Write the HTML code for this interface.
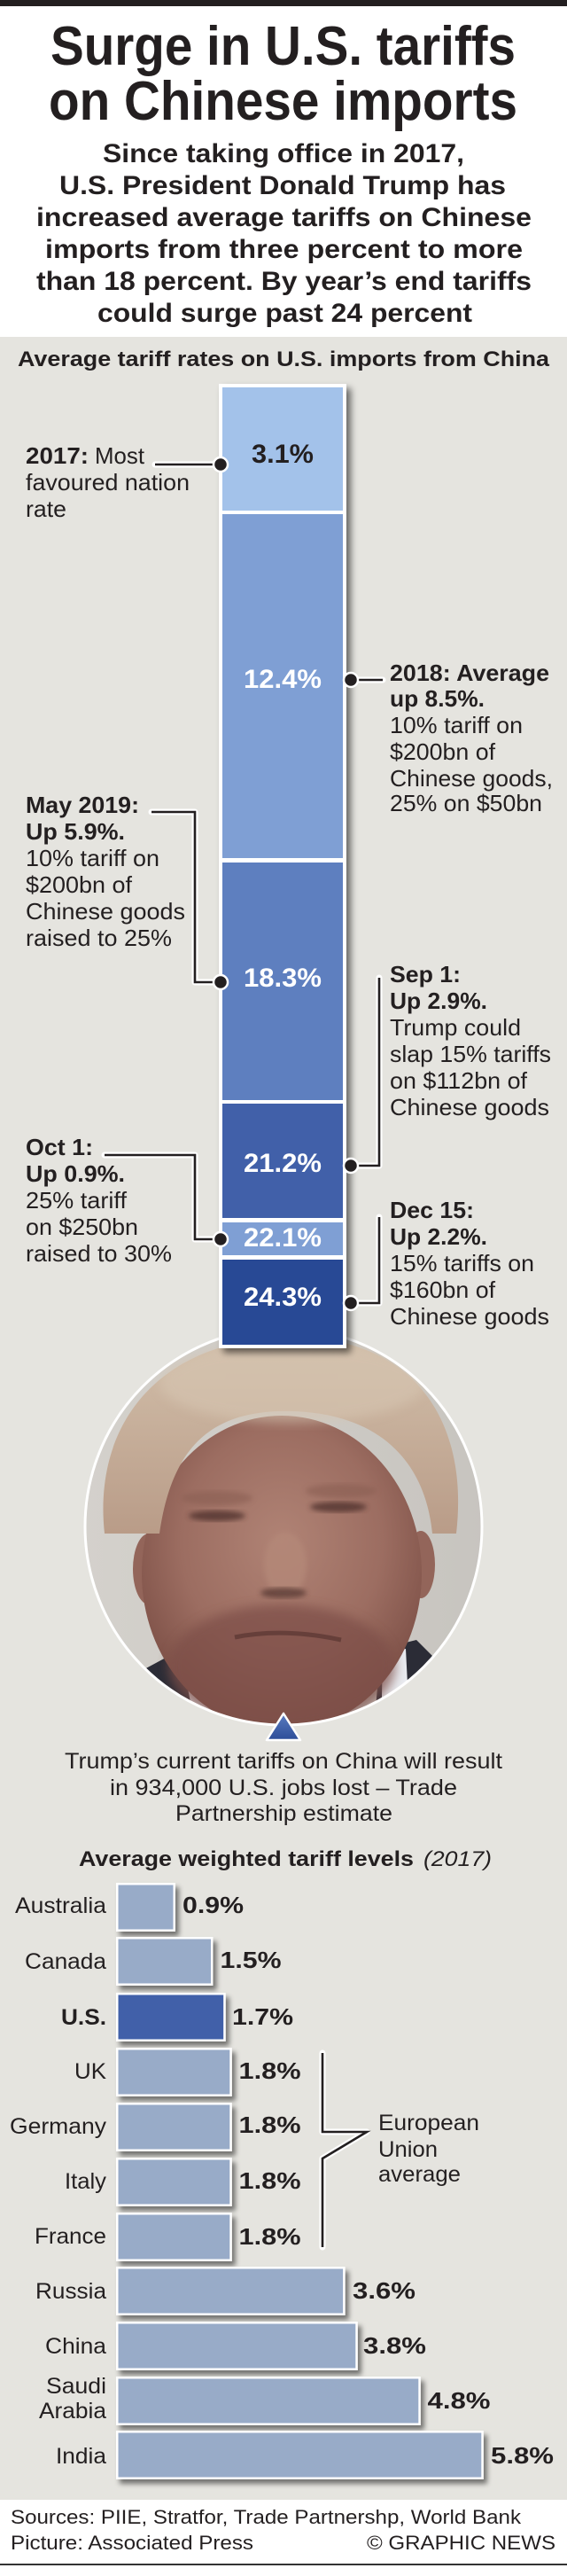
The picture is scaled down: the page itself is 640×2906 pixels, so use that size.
<!DOCTYPE html>
<html>
<head>
<meta charset="utf-8">
<style>
html,body{margin:0;padding:0;background:#fff;}
svg{display:block;}
text{font-family:"Liberation Sans",Arial,Helvetica,sans-serif;fill:#231f20;}
.b{font-weight:bold;}
.w{fill:#ffffff;}
</style>
</head>
<body>
<svg width="640" height="2906" viewBox="0 0 640 2906" xmlns="http://www.w3.org/2000/svg">
<defs>
  <filter id="sh" x="-20%" y="-20%" width="150%" height="150%">
    <feGaussianBlur in="SourceAlpha" stdDeviation="4"/>
    <feOffset dx="5" dy="5" result="o"/>
    <feComponentTransfer><feFuncA type="linear" slope="0.55"/></feComponentTransfer>
    <feMerge><feMergeNode/><feMergeNode in="SourceGraphic"/></feMerge>
  </filter>
  <filter id="sh2" x="-10%" y="-20%" width="130%" height="160%">
    <feGaussianBlur in="SourceAlpha" stdDeviation="3"/>
    <feOffset dx="4" dy="5" result="o"/>
    <feComponentTransfer><feFuncA type="linear" slope="0.5"/></feComponentTransfer>
    <feMerge><feMergeNode/><feMergeNode in="SourceGraphic"/></feMerge>
  </filter>
  <filter id="blur6"><feGaussianBlur stdDeviation="6"/></filter>
  <filter id="blur3"><feGaussianBlur stdDeviation="3"/></filter>
  <clipPath id="cc"><circle cx="320" cy="1722" r="224"/></clipPath>
  <linearGradient id="bgph" x1="0" x2="1" y1="0" y2="0">
    <stop offset="0" stop-color="#d4d1cc"/>
    <stop offset="1" stop-color="#c7c4bf"/>
  </linearGradient>
  <radialGradient id="face" cx="0.5" cy="0.4" r="0.6">
    <stop offset="0" stop-color="#b08375"/>
    <stop offset="0.6" stop-color="#9c6d61"/>
    <stop offset="1" stop-color="#7c4f46"/>
  </radialGradient>
  <linearGradient id="hair" x1="0" x2="0" y1="0" y2="1">
    <stop offset="0" stop-color="#d2bfaa"/>
    <stop offset="1" stop-color="#b99c88"/>
  </linearGradient>
  <linearGradient id="tri" x1="0" x2="0" y1="0" y2="1">
    <stop offset="0" stop-color="#5a7cc0"/>
    <stop offset="1" stop-color="#2c4c98"/>
  </linearGradient>
</defs>

<!-- backgrounds -->
<rect x="0" y="0" width="640" height="2906" fill="#ffffff"/>
<rect x="0" y="0" width="640" height="7" fill="#231f20"/>
<rect x="0" y="380" width="640" height="2440" fill="#e5e4df"/>

<!-- title -->
<text class="b" x="57" y="73" font-size="62" textLength="525" lengthAdjust="spacingAndGlyphs">Surge in U.S. tariffs</text>
<text class="b" x="55" y="135" font-size="62" textLength="529" lengthAdjust="spacingAndGlyphs">on Chinese imports</text>

<text class="b" x="116" y="183" font-size="30" textLength="408" lengthAdjust="spacingAndGlyphs">Since taking office in 2017,</text>
<text class="b" x="67" y="219" font-size="30" textLength="504" lengthAdjust="spacingAndGlyphs">U.S. President Donald Trump has</text>
<text class="b" x="41" y="255" font-size="30" textLength="559" lengthAdjust="spacingAndGlyphs">increased average tariffs on Chinese</text>
<text class="b" x="51" y="291" font-size="30" textLength="539" lengthAdjust="spacingAndGlyphs">imports from three percent to more</text>
<text class="b" x="41" y="327" font-size="30" textLength="559" lengthAdjust="spacingAndGlyphs">than 18 percent. By year’s end tariffs</text>
<text class="b" x="110" y="363" font-size="30" textLength="423" lengthAdjust="spacingAndGlyphs">could surge past 24 percent</text>

<text class="b" x="20" y="413" font-size="24" textLength="600" lengthAdjust="spacingAndGlyphs">Average tariff rates on U.S. imports from China</text>

<!-- photo -->
<g clip-path="url(#cc)">
  <rect x="90" y="1490" width="470" height="470" fill="url(#bgph)"/>
  <!-- ears -->
  <ellipse cx="168" cy="1770" rx="18" ry="40" fill="#93655a"/>
  <ellipse cx="475" cy="1765" rx="16" ry="38" fill="#93655a"/>
  <!-- suit & shirt -->
  <polygon points="150,1890 215,1855 240,1970 130,1970" fill="#2b2c36"/>
  <polygon points="205,1870 228,1862 255,1970 225,1970" fill="#e9ebf0"/>
  <polygon points="430,1860 470,1850 520,1900 500,1970 420,1970" fill="#2b2c36"/>
  <polygon points="432,1865 458,1860 462,1940 430,1960" fill="#e9ebf0"/>
  <!-- face -->
  <ellipse cx="318" cy="1775" rx="158" ry="178" fill="url(#face)"/>
  <ellipse cx="318" cy="1880" rx="128" ry="70" fill="#7e5048" opacity="0.75" filter="url(#blur6)"/>
  <!-- hair -->
  <path d="M118 1730 C105 1610 175 1515 320 1508 C465 1505 530 1600 515 1730 L488 1730 C480 1650 430 1595 330 1592 C245 1590 195 1625 180 1730 Z" fill="url(#hair)"/>
  <ellipse cx="330" cy="1560" rx="150" ry="45" fill="#d6c5b1" opacity="0.6" filter="url(#blur6)"/>
  <!-- eyes -->
  <ellipse cx="245" cy="1710" rx="32" ry="6" fill="#4b2e2a" opacity="0.75" filter="url(#blur3)"/>
  <ellipse cx="382" cy="1700" rx="32" ry="6" fill="#4b2e2a" opacity="0.75" filter="url(#blur3)"/>
  <ellipse cx="245" cy="1690" rx="40" ry="8" fill="#8a5e52" opacity="0.6" filter="url(#blur3)"/>
  <ellipse cx="385" cy="1682" rx="40" ry="8" fill="#8a5e52" opacity="0.6" filter="url(#blur3)"/>
  <!-- nose -->
  <ellipse cx="322" cy="1765" rx="24" ry="36" fill="#b48878" opacity="0.8" filter="url(#blur3)"/>
  <ellipse cx="320" cy="1797" rx="26" ry="6" fill="#5a3a34" opacity="0.8" filter="url(#blur3)"/>
  <!-- mouth -->
  <path d="M265 1847 Q320 1836 385 1850" stroke="#5e3a35" stroke-width="5" fill="none" opacity="0.8"/>
</g>
<circle cx="320" cy="1722" r="224" fill="none" stroke="#ffffff" stroke-width="3"/>

<!-- triangle -->
<polygon points="320,1933 301,1963 339,1963" fill="url(#tri)" stroke="#ffffff" stroke-width="2.5" stroke-linejoin="round"/>

<!-- main vertical bar -->
<rect x="247" y="433" width="144" height="1088" fill="#ffffff" filter="url(#sh)"/>
<rect x="251" y="437" width="136" height="139" fill="#a3c2ea"/>
<rect x="251" y="580" width="136" height="388" fill="#7f9fd4"/>
<rect x="251" y="973" width="136" height="268" fill="#5e7fbf"/>
<rect x="251" y="1245" width="136" height="129" fill="#4160a9"/>
<rect x="251" y="1379" width="136" height="37" fill="#7f9fd4"/>
<rect x="251" y="1421" width="136" height="96" fill="#284995"/>

<text class="b" x="284" y="522" font-size="30" textLength="70" lengthAdjust="spacingAndGlyphs">3.1%</text>
<text class="b w" x="275" y="776" font-size="30" textLength="88" lengthAdjust="spacingAndGlyphs">12.4%</text>
<text class="b w" x="275" y="1113" font-size="30" textLength="88" lengthAdjust="spacingAndGlyphs">18.3%</text>
<text class="b w" x="275" y="1322" font-size="30" textLength="88" lengthAdjust="spacingAndGlyphs">21.2%</text>
<text class="b w" x="275" y="1406" font-size="30" textLength="88" lengthAdjust="spacingAndGlyphs">22.1%</text>
<text class="b w" x="275" y="1473" font-size="30" textLength="88" lengthAdjust="spacingAndGlyphs">24.3%</text>

<!-- callout lines (halo + line) -->
<g fill="none" stroke="#ffffff" stroke-width="7" stroke-linecap="round" stroke-linejoin="round">
  <path d="M175 524 L249 524"/>
  <path d="M396 767 L432 767"/>
  <path d="M171 916 L220 916 L220 1108 L249 1108"/>
  <path d="M428 1103 L428 1315 L396 1315"/>
  <path d="M118 1303 L220 1303 L220 1398 L249 1398"/>
  <path d="M428 1373 L428 1470 L396 1470"/>
  <path d="M364 2316 L364 2405 L414 2405 L364 2435 L364 2535"/>
</g>
<g fill="none" stroke="#231f20" stroke-width="2.6" stroke-linejoin="miter">
  <path d="M175 524 L249 524"/>
  <path d="M396 767 L432 767"/>
  <path d="M171 916 L220 916 L220 1108 L249 1108"/>
  <path d="M428 1103 L428 1315 L396 1315"/>
  <path d="M118 1303 L220 1303 L220 1398 L249 1398"/>
  <path d="M428 1373 L428 1470 L396 1470"/>
  <path d="M364 2316 L364 2405 L414 2405 L364 2435 L364 2535"/>
</g>
<g fill="#231f20" stroke="#ffffff" stroke-width="2.5">
  <circle cx="249" cy="524" r="8"/>
  <circle cx="396" cy="767" r="8"/>
  <circle cx="249" cy="1108" r="8"/>
  <circle cx="396" cy="1315" r="8"/>
  <circle cx="249" cy="1398" r="8"/>
  <circle cx="396" cy="1470" r="8"/>
</g>

<!-- left callouts -->
<g font-size="26">
<text class="b" x="29" y="523" textLength="71" lengthAdjust="spacingAndGlyphs">2017:</text>
<text x="107" y="523" textLength="56" lengthAdjust="spacingAndGlyphs">Most</text>
<text x="29" y="553" textLength="185" lengthAdjust="spacingAndGlyphs">favoured nation</text>
<text x="29" y="583" textLength="46" lengthAdjust="spacingAndGlyphs">rate</text>

<text class="b" x="29" y="917" textLength="128" lengthAdjust="spacingAndGlyphs">May 2019:</text>
<text class="b" x="29" y="947" textLength="112" lengthAdjust="spacingAndGlyphs">Up 5.9%.</text>
<text x="29" y="977" textLength="151" lengthAdjust="spacingAndGlyphs">10% tariff on</text>
<text x="29" y="1007" textLength="120" lengthAdjust="spacingAndGlyphs">$200bn of</text>
<text x="29" y="1037" textLength="180" lengthAdjust="spacingAndGlyphs">Chinese goods</text>
<text x="29" y="1067" textLength="165" lengthAdjust="spacingAndGlyphs">raised to 25%</text>

<text class="b" x="29" y="1303" textLength="76" lengthAdjust="spacingAndGlyphs">Oct 1:</text>
<text class="b" x="29" y="1333" textLength="112" lengthAdjust="spacingAndGlyphs">Up 0.9%.</text>
<text x="29" y="1363" textLength="114" lengthAdjust="spacingAndGlyphs">25% tariff</text>
<text x="29" y="1393" textLength="127" lengthAdjust="spacingAndGlyphs">on $250bn</text>
<text x="29" y="1423" textLength="165" lengthAdjust="spacingAndGlyphs">raised to 30%</text>

<!-- right callouts -->
<text class="b" x="440" y="768" textLength="180" lengthAdjust="spacingAndGlyphs">2018: Average</text>
<text class="b" x="440" y="797" textLength="107" lengthAdjust="spacingAndGlyphs">up 8.5%.</text>
<text x="440" y="827" textLength="150" lengthAdjust="spacingAndGlyphs">10% tariff on</text>
<text x="440" y="857" textLength="119" lengthAdjust="spacingAndGlyphs">$200bn of</text>
<text x="440" y="887" textLength="184" lengthAdjust="spacingAndGlyphs">Chinese goods,</text>
<text x="440" y="915" textLength="172" lengthAdjust="spacingAndGlyphs">25% on $50bn</text>

<text class="b" x="440" y="1108" textLength="80" lengthAdjust="spacingAndGlyphs">Sep 1:</text>
<text class="b" x="440" y="1138" textLength="110" lengthAdjust="spacingAndGlyphs">Up 2.9%.</text>
<text x="440" y="1168" textLength="148" lengthAdjust="spacingAndGlyphs">Trump could</text>
<text x="440" y="1198" textLength="182" lengthAdjust="spacingAndGlyphs">slap 15% tariffs</text>
<text x="440" y="1228" textLength="155" lengthAdjust="spacingAndGlyphs">on $112bn of</text>
<text x="440" y="1258" textLength="180" lengthAdjust="spacingAndGlyphs">Chinese goods</text>

<text class="b" x="440" y="1374" textLength="95" lengthAdjust="spacingAndGlyphs">Dec 15:</text>
<text class="b" x="440" y="1404" textLength="110" lengthAdjust="spacingAndGlyphs">Up 2.2%.</text>
<text x="440" y="1434" textLength="163" lengthAdjust="spacingAndGlyphs">15% tariffs on</text>
<text x="440" y="1464" textLength="119" lengthAdjust="spacingAndGlyphs">$160bn of</text>
<text x="440" y="1494" textLength="180" lengthAdjust="spacingAndGlyphs">Chinese goods</text>
</g>

<!-- photo caption -->
<g font-size="25">
<text x="73" y="1995" textLength="494" lengthAdjust="spacingAndGlyphs">Trump’s current tariffs on China will result</text>
<text x="124" y="2025" textLength="392" lengthAdjust="spacingAndGlyphs">in 934,000 U.S. jobs lost – Trade</text>
<text x="198" y="2054" textLength="245" lengthAdjust="spacingAndGlyphs">Partnership estimate</text>
</g>

<!-- second chart title -->
<text class="b" x="89" y="2105" font-size="24" textLength="378" lengthAdjust="spacingAndGlyphs">Average weighted tariff levels</text>
<text x="478" y="2105" font-size="24" font-style="italic" textLength="77" lengthAdjust="spacingAndGlyphs">(2017)</text>

<!-- horizontal bars -->
<g>
  <rect x="131" y="2124" width="67" height="55" fill="#fff" filter="url(#sh2)"/>
  <rect x="133.5" y="2126.5" width="62" height="50" fill="#98abc8"/>
  <rect x="131" y="2185" width="109.5" height="55" fill="#fff" filter="url(#sh2)"/>
  <rect x="133.5" y="2187.5" width="104.5" height="50" fill="#98abc8"/>
  <rect x="131" y="2248" width="123.7" height="55" fill="#fff" filter="url(#sh2)"/>
  <rect x="133.5" y="2250.5" width="118.7" height="50" fill="#4160a9"/>
  <rect x="131" y="2310" width="130.8" height="55" fill="#fff" filter="url(#sh2)"/>
  <rect x="133.5" y="2312.5" width="125.8" height="50" fill="#98abc8"/>
  <rect x="131" y="2372" width="130.8" height="55" fill="#fff" filter="url(#sh2)"/>
  <rect x="133.5" y="2374.5" width="125.8" height="50" fill="#98abc8"/>
  <rect x="131" y="2434" width="130.8" height="55" fill="#fff" filter="url(#sh2)"/>
  <rect x="133.5" y="2436.5" width="125.8" height="50" fill="#98abc8"/>
  <rect x="131" y="2496" width="130.8" height="55" fill="#fff" filter="url(#sh2)"/>
  <rect x="133.5" y="2498.5" width="125.8" height="50" fill="#98abc8"/>
  <rect x="131" y="2557" width="258.6" height="55" fill="#fff" filter="url(#sh2)"/>
  <rect x="133.5" y="2559.5" width="253.6" height="50" fill="#98abc8"/>
  <rect x="131" y="2619" width="272.8" height="55" fill="#fff" filter="url(#sh2)"/>
  <rect x="133.5" y="2621.5" width="267.8" height="50" fill="#98abc8"/>
  <rect x="131" y="2681" width="343.8" height="55" fill="#fff" filter="url(#sh2)"/>
  <rect x="133.5" y="2683.5" width="338.8" height="50" fill="#98abc8"/>
  <rect x="131" y="2742" width="414.8" height="55" fill="#fff" filter="url(#sh2)"/>
  <rect x="133.5" y="2744.5" width="409.8" height="50" fill="#98abc8"/>
</g>

<!-- redraw bracket over bars region (none overlapping) -->

<!-- country labels -->
<g font-size="25" text-anchor="end">
<text x="120" y="2158" textLength="103" lengthAdjust="spacingAndGlyphs">Australia</text>
<text x="120" y="2221" textLength="92" lengthAdjust="spacingAndGlyphs">Canada</text>
<text class="b" x="120" y="2284" textLength="51" lengthAdjust="spacingAndGlyphs">U.S.</text>
<text x="120" y="2345" textLength="36" lengthAdjust="spacingAndGlyphs">UK</text>
<text x="120" y="2407" textLength="109" lengthAdjust="spacingAndGlyphs">Germany</text>
<text x="120" y="2469" textLength="47" lengthAdjust="spacingAndGlyphs">Italy</text>
<text x="120" y="2531" textLength="81" lengthAdjust="spacingAndGlyphs">France</text>
<text x="120" y="2593" textLength="80" lengthAdjust="spacingAndGlyphs">Russia</text>
<text x="120" y="2655" textLength="69" lengthAdjust="spacingAndGlyphs">China</text>
<text x="120" y="2700" textLength="68" lengthAdjust="spacingAndGlyphs">Saudi</text>
<text x="120" y="2728" textLength="76" lengthAdjust="spacingAndGlyphs">Arabia</text>
<text x="120" y="2779" textLength="57" lengthAdjust="spacingAndGlyphs">India</text>
</g>

<!-- values -->
<g font-size="26" class="b">
<text class="b" x="206" y="2158" textLength="69" lengthAdjust="spacingAndGlyphs">0.9%</text>
<text class="b" x="248.5" y="2220" textLength="69" lengthAdjust="spacingAndGlyphs">1.5%</text>
<text class="b" x="262" y="2284" textLength="69" lengthAdjust="spacingAndGlyphs">1.7%</text>
<text class="b" x="269.5" y="2345" textLength="70" lengthAdjust="spacingAndGlyphs">1.8%</text>
<text class="b" x="269.5" y="2406" textLength="70" lengthAdjust="spacingAndGlyphs">1.8%</text>
<text class="b" x="269.5" y="2469" textLength="70" lengthAdjust="spacingAndGlyphs">1.8%</text>
<text class="b" x="269.5" y="2532" textLength="70" lengthAdjust="spacingAndGlyphs">1.8%</text>
<text class="b" x="398" y="2593" textLength="71" lengthAdjust="spacingAndGlyphs">3.6%</text>
<text class="b" x="410" y="2655" textLength="71" lengthAdjust="spacingAndGlyphs">3.8%</text>
<text class="b" x="482.5" y="2717" textLength="71" lengthAdjust="spacingAndGlyphs">4.8%</text>
<text class="b" x="554" y="2779" textLength="71" lengthAdjust="spacingAndGlyphs">5.8%</text>
</g>

<!-- EU label -->
<g font-size="25">
<text x="427" y="2403" textLength="114" lengthAdjust="spacingAndGlyphs">European</text>
<text x="427" y="2433" textLength="67" lengthAdjust="spacingAndGlyphs">Union</text>
<text x="427" y="2461" textLength="93" lengthAdjust="spacingAndGlyphs">average</text>
</g>

<!-- footer -->
<g font-size="22">
<text x="12" y="2847" textLength="576" lengthAdjust="spacingAndGlyphs">Sources: PIIE, Stratfor, Trade Partnershp, World Bank</text>
<text x="12" y="2876" textLength="274" lengthAdjust="spacingAndGlyphs">Picture: Associated Press</text>
<text x="414" y="2876" textLength="213" lengthAdjust="spacingAndGlyphs">© GRAPHIC NEWS</text>
</g>
<rect x="0" y="2892" width="640" height="2" fill="#333333"/>
</svg>
</body>
</html>
